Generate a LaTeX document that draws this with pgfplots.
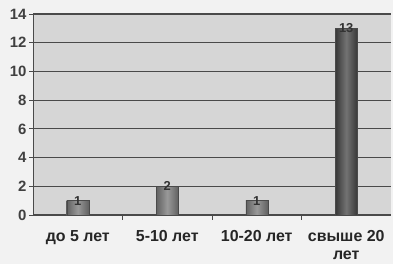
\documentclass[border=0pt]{standalone}
\usepackage{pgfplots}
\pgfplotsset{compat=1.18}
\usepackage{fontspec}
\setmainfont{Liberation Sans}
\definecolor{bgout}{HTML}{F2F2F2}
\definecolor{plotbg}{HTML}{D6D6D6}
\definecolor{gridc}{HTML}{4A4A4A}
\begin{document}
\begin{tikzpicture}[x=1bp,y=1bp]
\useasboundingbox (-33,-49) rectangle (360,215);
\fill[bgout] (-33,-49) rectangle (360,215);
\begin{axis}[
  at={(0,0)}, anchor=south west,
  scale only axis, width=358bp, height=201bp,
  xmin=-0.5, xmax=3.5, ymin=0, ymax=14,
  axis background/.style={fill=plotbg},
  axis line style={gridc, thick},
  axis x line*=bottom, axis y line*=left,
  ytick={0,2,...,14},
  ymajorgrids, grid style={gridc, line width=1.2pt},
  xtick={0,1,2,3},
  xticklabels={до 5 лет,5-10 лет,10-20 лет,{свыше 20\\лет}},
  xticklabel style={align=center, font=\bfseries\fontsize{16}{18}\selectfont, text=black!85, yshift=-8pt},
  major x tick style={draw=none},
  minor xtick={0.5,1.5,2.5},
  minor tick length=5pt,
  minor x tick style={gridc, thick},
  tick align=outside,
  major tick length=4pt,
  y tick style={gridc, thick},
  yticklabel style={font=\bfseries\fontsize{15}{16}\selectfont, text=black!75, xshift=1pt},
  /pgf/number format/assume math mode=true,
  ybar, bar width=22bp, bar shift=0pt,
  nodes near coords,
  every node near coord/.append style={font=\bfseries\fontsize{13}{13}\selectfont, yshift=-8pt, text=black!80},
  clip=false,
]
\addplot[draw=gridc, left color=black!62, right color=black!62, middle color=black!40] coordinates {(0,1)};
\addplot[draw=gridc, left color=black!62, right color=black!62, middle color=black!40] coordinates {(1,2)};
\addplot[draw=gridc, left color=black!62, right color=black!62, middle color=black!40] coordinates {(2,1)};
\addplot[draw=gridc, left color=black!78, right color=black!78, middle color=black!55] coordinates {(3,13)};
\end{axis}
\end{tikzpicture}
\end{document}
